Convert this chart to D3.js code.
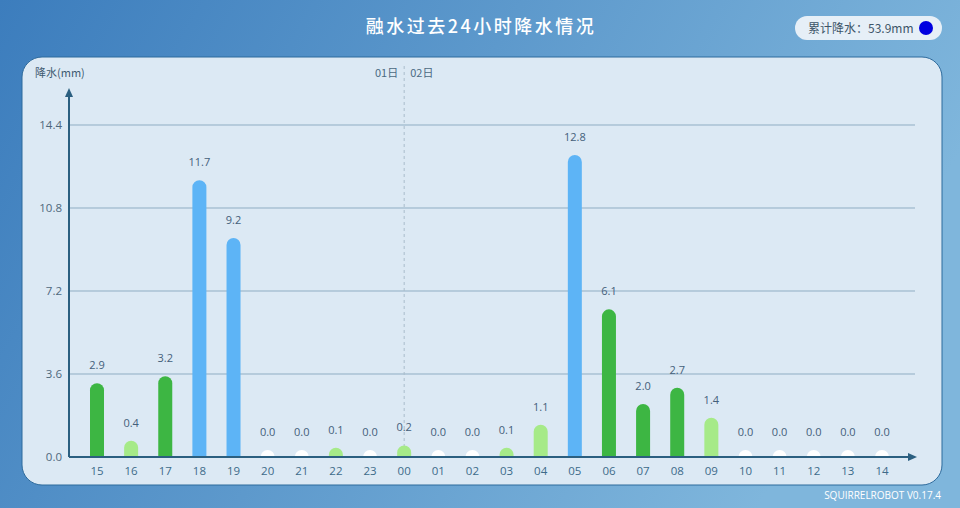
<!DOCTYPE html>
<html><head><meta charset="utf-8">
<script src="https://cdn.jsdelivr.net/npm/d3@7"></script>
<style>body{margin:0;padding:0;overflow:hidden}svg{display:block}</style>
</head><body>
<svg id="c" width="960" height="508"></svg>
<script>
const hours = ["15","16","17","18","19","20","21","22","23","00","01","02","03","04","05","06","07","08","09","10","11","12","13","14"];
const rain = [2.9,0.4,3.2,11.7,9.2,0.0,0.0,0.1,0.0,0.2,0.0,0.0,0.1,1.1,12.8,6.1,2.0,2.7,1.4,0.0,0.0,0.0,0.0,0.0];
const yTicks = [0.0,3.6,7.2,10.8,14.4];
const total = "53.9";
const dayLabels = ["01日","02日"];

const svg = d3.select("#c");
const defs = svg.append("defs");
const g1 = defs.append("linearGradient").attr("id","bg").attr("x1","0").attr("y1","0").attr("x2","1").attr("y2","0.3");
g1.append("stop").attr("offset","0").attr("stop-color","#3c7dbd");
g1.append("stop").attr("offset","0.5").attr("stop-color","#5d99cc");
g1.append("stop").attr("offset","1").attr("stop-color","#7fb6dc");
svg.append("rect").attr("width",960).attr("height",508).attr("fill","url(#bg)");

// panel
svg.append("rect").attr("x",22).attr("y",57).attr("width",920).attr("height",428).attr("rx",20)
  .attr("fill","#dce9f4").attr("stroke","#2d6a9c").attr("stroke-width",1);

// title
svg.append("text").attr("x",481).attr("y",33).attr("text-anchor","middle")
  .attr("font-family","'Noto Sans CJK SC'").attr("font-weight","500").attr("font-size",18)
  .attr("letter-spacing",2.5).attr("fill","#ffffff").text("融水过去24小时降水情况");

// legend pill
svg.append("rect").attr("x",795).attr("y",16).attr("width",147).attr("height",24).attr("rx",12).attr("fill","#e6eff7");
svg.append("text").attr("x",808).attr("y",32.5).attr("font-family","'Noto Sans CJK SC'").attr("font-size",12)
  .attr("fill","#3d5568").text("累计降水：" + total + "mm");
svg.append("circle").attr("cx",926).attr("cy",28).attr("r",7).attr("fill","#0000e0");

const x0 = 69, xEnd = 915, yBase = 457;
const x = d3.scalePoint().domain(hours).range([97,882]);
const y = d3.scaleLinear().domain([0,14.4]).range([yBase,125]);

// gridlines
svg.append("g").selectAll("line").data(yTicks.slice(1)).join("line")
  .attr("x1",x0).attr("x2",xEnd).attr("y1",d=>y(d)).attr("y2",d=>y(d))
  .attr("stroke","#8fadc3").attr("stroke-width",1);

// y tick labels
svg.append("g").selectAll("text").data(yTicks).join("text")
  .attr("x",62).attr("y",d=>y(d)+4).attr("text-anchor","end")
  .attr("font-family","'Open Sans'").attr("font-size",11.5).attr("fill","#4f687c")
  .text(d=>d.toFixed(1));

// y axis label
svg.append("text").attr("x",35).attr("y",77).attr("font-family","'Noto Sans CJK SC'").attr("font-size",11)
  .attr("fill","#3e5a70").text("降水(mm)");

// day divider
const divX = x("00");
svg.append("line").attr("x1",divX).attr("x2",divX).attr("y1",66).attr("y2",yBase)
  .attr("stroke","#a9bccb").attr("stroke-dasharray","3,3").attr("stroke-width",1);
svg.append("text").attr("x",divX-6).attr("y",77).attr("text-anchor","end").attr("font-family","'Noto Sans CJK SC'")
  .attr("font-size",11).attr("fill","#4b6a82").text(dayLabels[0]);
svg.append("text").attr("x",divX+6).attr("y",77).attr("font-family","'Noto Sans CJK SC'")
  .attr("font-size",11).attr("fill","#4b6a82").text(dayLabels[1]);

function col(v){ if(v===0) return "#ffffff"; if(v<2) return "#a6ea88"; if(v<8) return "#3db643"; return "#5db4f6"; }
const bw = 14, r = 7;
const bars = svg.append("g");
hours.forEach((h,i)=>{
  const v = rain[i], cx = x(h), top = y(v);
  const path = `M${cx-bw/2},${yBase} L${cx-bw/2},${top} A${r},${r} 0 0 1 ${cx+bw/2},${top} L${cx+bw/2},${yBase} Z`;
  bars.append("path").attr("d",path).attr("fill",col(v));
  bars.append("text").attr("x",cx).attr("y",top-r-14).attr("text-anchor","middle")
    .attr("font-family","'Open Sans'").attr("font-size",11).attr("fill","#44607a").text(v.toFixed(1));
});

// axes
const axCol = "#2b5f80";
svg.append("line").attr("x1",x0).attr("x2",x0).attr("y1",yBase).attr("y2",96).attr("stroke",axCol).attr("stroke-width",2);
svg.append("path").attr("d",`M${x0},88 L${x0-4},97 L${x0+4},97 Z`).attr("fill",axCol);
svg.append("line").attr("x1",x0).attr("x2",xEnd-6).attr("y1",yBase).attr("y2",yBase).attr("stroke",axCol).attr("stroke-width",2);
svg.append("path").attr("d",`M${xEnd+2},${yBase} L${xEnd-7},${yBase-4} L${xEnd-7},${yBase+4} Z`).attr("fill",axCol);

// x labels
svg.append("g").selectAll("text").data(hours).join("text")
  .attr("x",d=>x(d)).attr("y",475).attr("text-anchor","middle")
  .attr("font-family","'Open Sans'").attr("font-size",11.5).attr("fill","#3d6b8a").text(d=>d);

// footer
svg.append("text").attr("x",941).attr("y",499).attr("text-anchor","end").attr("font-family","'Open Sans'")
  .attr("font-size",10).attr("fill","#ffffff").text("SQUIRRELROBOT V0.17.4");
</script>
</body></html>
